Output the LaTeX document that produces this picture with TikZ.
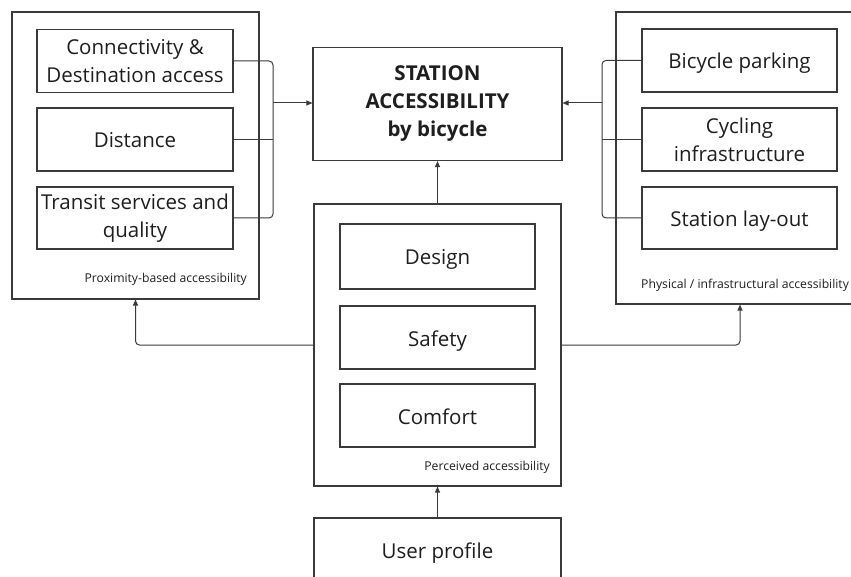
\documentclass[tikz,border=0pt]{standalone}
\usepackage{fontspec}
\setmainfont{Open Sans}
\usetikzlibrary{arrows.meta}
\definecolor{ln}{HTML}{3A3A3A}
\definecolor{tx}{HTML}{1E1E1E}
\tikzset{
  box/.style={draw=ln, line width=1.1pt, rectangle, inner sep=0pt, align=center, text=tx, font=\fontsize{20.5}{28}\selectfont},
  one/.style={text height=21pt, text depth=4pt},
  grp/.style={draw=ln, line width=1.1pt, rectangle, inner sep=0pt},
  small/.style={text=tx, inner sep=0pt, font=\fontsize{12.2}{14}\selectfont},
  conn/.style={draw=ln, line width=1pt, rounded corners=4pt},
  arr/.style={conn, -{Triangle[length=6pt,width=5pt]}}
}
\begin{document}
\begin{tikzpicture}[x=1pt,y=-1pt]
\useasboundingbox (0,0) rectangle (851,577);
% left group
\node[grp, minimum width=247pt, minimum height=287pt] (lg) at (135.5,155.5) {};
\node[box, minimum width=196pt, minimum height=63pt] (l1) at (135,61) {Connectivity \&\\Destination access};
\node[box, one, minimum width=196pt, minimum height=63pt] (l2) at (135,139.5) {Distance};
\node[box, minimum width=196pt, minimum height=62pt] (l3) at (135,218) {Transit services and\\quality};
\node[small, anchor=base east] (ll) at (247,283) {Proximity-based accessibility};
% station
\node[box, minimum width=249pt, minimum height=113pt, font=\fontsize{20.5}{28}\selectfont\bfseries] (st) at (437.5,104) {STATION\\ACCESSIBILITY\\by bicycle};
% right group
\node[grp, minimum width=248pt, minimum height=292pt] (rg) at (740,158) {};
\node[box, one, minimum width=195pt, minimum height=63pt] (r1) at (739.5,60.5) {Bicycle parking};
\node[box, minimum width=195pt, minimum height=63pt] (r2) at (739.5,139.5) {Cycling\\infrastructure};
\node[box, one, minimum width=195pt, minimum height=62pt] (r3) at (739.5,218) {Station lay-out};
\node[small, anchor=base west] (rl) at (641,289) {Physical / infrastructural accessibility};
% perceived group
\node[grp, minimum width=247pt, minimum height=282pt] (pg) at (437.5,345) {};
\node[box, one, minimum width=195pt, minimum height=65pt] (p1) at (437.5,256.5) {Design};
\node[box, one, minimum width=195pt, minimum height=63pt] (p2) at (437.5,337.5) {Safety};
\node[box, one, minimum width=195pt, minimum height=63pt] (p3) at (437.5,415.5) {Comfort};
\node[small, anchor=base east] (pl) at (550,470) {Perceived accessibility};
% user profile
\node[box, one, minimum width=247pt, minimum height=64pt] (up) at (437.5,550) {User profile};
% connectors left
\coordinate (lb) at (273,103);
\coordinate (rb) at (602,103);
\draw[conn] (l1.east) -- (l1.east -| lb) -- (l3.east -| lb) -- (l3.east);
\draw[conn] (l2.east) -- (l2.east -| lb);
\draw[arr] (lb) -- (st.west |- lb);
% connectors right
\draw[conn] (r1.west) -- (r1.west -| rb) -- (r3.west -| rb) -- (r3.west);
\draw[conn] (r2.west) -- (r2.west -| rb);
\draw[arr] (rb) -- (st.east |- rb);
% other arrows
\draw[arr] (pg.north) -- (st.south);
\draw[arr] (up.north) -- (pg.south);
\draw[arr] (pg.west) -| (lg.south);
\draw[arr] (pg.east) -| (rg.south);
\end{tikzpicture}
\end{document}
